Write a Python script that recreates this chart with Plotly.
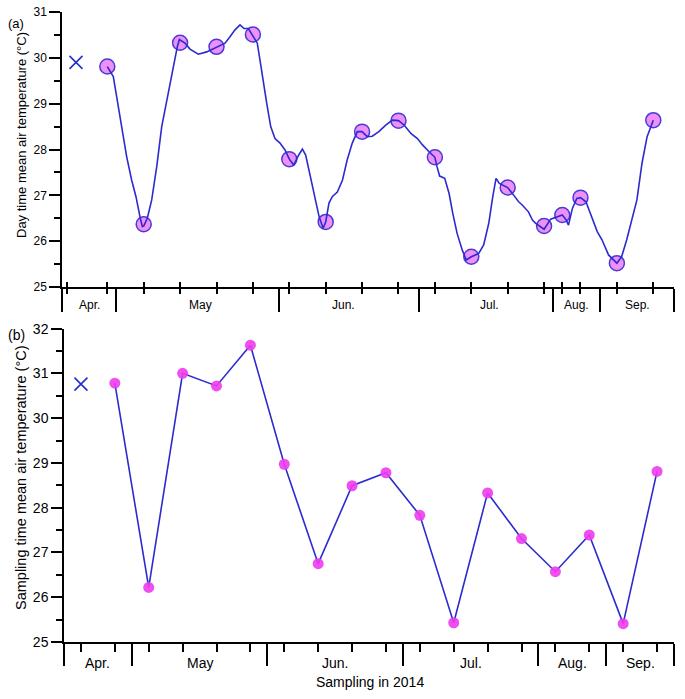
import plotly.graph_objects as go

FONT = "Liberation Sans, Arial, sans-serif"
months = ["Apr.", "May", "Jun.", "Jul.", "Aug.", "Sep."]

# ---------- Panel (a): day time mean air temperature ----------
a_sample_x = [0, 1, 2, 3, 4, 5, 6, 7, 8, 9, 10, 11, 12, 12.5, 13, 14, 15]
a_sample_y = [29.81, 26.37, 30.33, 30.24, 30.51, 27.79, 26.42, 28.39, 28.63,
              27.83, 25.66, 27.17, 26.33, 26.57, 26.95, 25.52, 28.64]
a_cross_x = [-0.86]
a_cross_y = [29.9]
a_curve_x = [0.00, 0.165, 0.258, 0.396, 0.533, 0.670, 0.788, 0.898, 0.962, 1.00,
             1.099, 1.220, 1.357, 1.495, 1.632, 1.769, 1.923, 1.98, 2.135, 2.272,
             2.500, 2.731, 3.00, 3.234, 3.371, 3.508, 3.646, 3.755, 3.874, 3.98,
             4.121, 4.195, 4.286, 4.379, 4.489, 4.607, 4.745, 4.882, 5.00, 5.12,
             5.26, 5.36, 5.45, 5.56, 5.68, 5.82, 5.93, 6.00, 6.09, 6.18,
             6.32, 6.46, 6.59, 6.73, 6.87, 7.00, 7.14, 7.28, 7.46, 7.65,
             7.83, 8.00, 8.16, 8.34, 8.52, 8.66, 8.84, 9.00, 9.06, 9.13,
             9.27, 9.39, 9.49, 9.61, 9.75, 9.86, 10.00, 10.20, 10.34, 10.48,
             10.59, 10.68, 10.77, 11.00, 11.16, 11.30, 11.40, 11.57, 11.68, 11.77,
             12.00, 12.18, 12.50, 12.61, 12.67, 12.78, 12.90, 13.00, 13.15, 13.33,
             13.46, 13.59, 13.77, 14.00, 14.13, 14.27, 14.41, 14.55, 14.69, 14.83,
             15.00]
a_curve_y = [29.81, 29.59, 29.15, 28.50, 27.84, 27.33, 26.97, 26.53, 26.32, 26.33,
             26.50, 26.90, 27.62, 28.50, 29.08, 29.63, 30.24, 30.40, 30.32, 30.19,
             30.08, 30.13, 30.24, 30.32, 30.46, 30.61, 30.72, 30.64, 30.64, 30.51,
             30.32, 29.95, 29.44, 29.01, 28.50, 28.24, 28.14, 27.99, 27.79, 27.66,
             27.88, 28.01, 27.88, 27.48, 26.97, 26.53, 26.28, 26.42, 26.83, 26.97,
             27.07, 27.33, 27.77, 28.14, 28.39, 28.39, 28.28, 28.29, 28.39, 28.53,
             28.64, 28.63, 28.53, 28.35, 28.24, 28.10, 27.95, 27.83, 27.62, 27.42,
             27.37, 27.04, 26.61, 26.17, 25.81, 25.59, 25.66, 25.73, 25.92, 26.39,
             26.97, 27.37, 27.26, 27.17, 27.01, 26.86, 26.79, 26.64, 26.46, 26.39,
             26.26, 26.48, 26.57, 26.46, 26.35, 26.72, 26.93, 26.95, 26.86, 26.50,
             26.21, 26.03, 25.70, 25.52, 25.66, 26.03, 26.46, 26.90, 27.70, 28.28,
             28.64]
a_range = [-1.2445, 15.569]
a_month_edges = [-1.2445, 0.23, 4.71, 8.56, 12.25, 13.53, 15.569]
a_month_centers = [-0.5, 2.55, 6.5, 10.5, 12.9, 14.57]
a_minor_ticks = [-1.12] + a_sample_x

# ---------- Panel (b): sampling time mean air temperature ----------
b_sample_x = list(range(1, 18))
b_sample_y = [30.78, 26.22, 31.00, 30.72, 31.63, 28.97, 26.75, 28.49, 28.78,
              27.83, 25.43, 28.33, 27.31, 26.57, 27.39, 25.41, 28.81]
b_cross_x = [0]
b_cross_y = [30.76]
b_range = [-0.5, 17.5]
b_month_edges = [-0.5, 1.5, 5.5, 9.5, 13.5, 15.5, 17.5]
b_month_centers = [0.5, 3.5, 7.5, 11.5, 14.5, 16.5]
b_minor_ticks = list(range(0, 18))

LINE = "#2b2bd0"

# the page body margin is removed (post_script), so the figure sits at (0,0)
L, R, T, B = 62, 11, 12, 57
W, H = 685, 699
PW, PH = W - L - R, H - T - B  # 612 x 630


def px_x(px):
    return (px - L) / PW


def px_y(py):
    return (H - B - py) / PH


fig = go.Figure()

# panel (a)
fig.add_trace(go.Scatter(x=a_sample_x, y=a_sample_y, mode="markers",
                         marker=dict(size=15, color="#ee90f7",
                                     line=dict(color="#4a3ad8", width=1.5)),
                         xaxis="x", yaxis="y", cliponaxis=False))
fig.add_trace(go.Scatter(x=a_curve_x, y=a_curve_y, mode="lines",
                         line=dict(color=LINE, width=1.6),
                         xaxis="x", yaxis="y"))
fig.add_trace(go.Scatter(x=a_cross_x, y=a_cross_y, mode="markers",
                         marker=dict(symbol="x-thin", size=13,
                                     line=dict(color="#2233cc", width=1.6)),
                         xaxis="x", yaxis="y"))
fig.add_trace(go.Scatter(x=[], y=[], xaxis="x3", yaxis="y"))

# panel (b)
fig.add_trace(go.Scatter(x=b_sample_x, y=b_sample_y, mode="lines",
                         line=dict(color=LINE, width=1.6),
                         xaxis="x2", yaxis="y2"))
fig.add_trace(go.Scatter(x=b_sample_x, y=b_sample_y, mode="markers",
                         marker=dict(size=11, color="#ee3cee", opacity=0.9),
                         xaxis="x2", yaxis="y2", cliponaxis=False))
fig.add_trace(go.Scatter(x=b_cross_x, y=b_cross_y, mode="markers",
                         marker=dict(symbol="x-thin", size=13,
                                     line=dict(color="#2233cc", width=1.6)),
                         xaxis="x2", yaxis="y2"))

ax_common = dict(showline=True, linecolor="black", linewidth=1.5,
                 showgrid=False, zeroline=False, tickcolor="black",
                 tickwidth=1.5, automargin=False)

TOP_DOM = [px_y(287), 1.0]
BOT_DOM = [0.0, px_y(328.6)]

fig.update_layout(
    width=W, height=H,
    margin=dict(l=L, r=R, t=T, b=B, autoexpand=False),
    paper_bgcolor="white", plot_bgcolor="white",
    showlegend=False,
    font=dict(family=FONT, color="black"),
    xaxis=dict(**ax_common, domain=[0, 1], anchor="y", range=a_range,
               tickmode="array", tickvals=a_month_edges, ticks="outside",
               ticklen=23, showticklabels=False,
               minor=dict(tickmode="array", tickvals=a_minor_ticks,
                          ticks="outside", ticklen=5, tickcolor="black",
                          tickwidth=1.5)),
    xaxis3=dict(overlaying="x", anchor="y", range=a_range, showline=False,
                showgrid=False, zeroline=False, tickmode="array",
                tickvals=a_minor_ticks, ticks="inside", ticklen=5,
                tickcolor="black", tickwidth=1.5, showticklabels=False,
                automargin=False),
    yaxis=dict(**ax_common, domain=TOP_DOM, anchor="x", range=[25, 31],
               tickmode="array", tickvals=[25, 26, 27, 28, 29, 30, 31],
               ticks="outside", ticklen=11, tickfont=dict(size=12),
               ticklabeloverflow="allow",
               minor=dict(tickmode="array",
                          tickvals=[25.5, 26.5, 27.5, 28.5, 29.5, 30.5],
                          ticks="outside", ticklen=6, tickcolor="black",
                          tickwidth=1.5)),
    xaxis2=dict(**ax_common, domain=[px_x(64), 1], anchor="y2", range=b_range,
                tickmode="array", tickvals=b_month_edges, ticks="outside",
                ticklen=22, showticklabels=False,
                minor=dict(tickmode="array", tickvals=b_minor_ticks,
                           ticks="outside", ticklen=8, tickcolor="black",
                           tickwidth=1.5)),
    yaxis2=dict(**ax_common, domain=BOT_DOM, anchor="x2", range=[25, 32],
                tickmode="array", tickvals=[25, 26, 27, 28, 29, 30, 31, 32],
                ticks="outside", ticklen=11, tickfont=dict(size=14),
                ticklabeloverflow="allow",
                minor=dict(tickmode="array",
                           tickvals=[25.5, 26.5, 27.5, 28.5, 29.5, 30.5, 31.5],
                           ticks="outside", ticklen=6, tickcolor="black",
                           tickwidth=1.5)),
)

ann = []
for m, c in zip(months, a_month_centers):
    ann.append(dict(text=m, x=c, xref="x", y=px_y(305), yref="paper",
                    showarrow=False, font=dict(size=12), xanchor="center",
                    yanchor="middle"))
for m, c in zip(months, b_month_centers):
    ann.append(dict(text=m, x=c, xref="x2", y=px_y(663), yref="paper",
                    showarrow=False, font=dict(size=14), xanchor="center",
                    yanchor="middle"))
ann.append(dict(text="Sampling in 2014", x=px_x(370), xref="paper",
                y=px_y(682), yref="paper", showarrow=False,
                font=dict(size=14), xanchor="center", yanchor="middle"))
ann.append(dict(text="Day time mean air temperature (°C)", textangle=-90,
                x=px_x(21), xref="paper", y=px_y(135),
                yref="paper", showarrow=False, font=dict(size=13),
                xanchor="center", yanchor="middle"))
ann.append(dict(text="Sampling time mean air temperature (°C)", textangle=-90,
                x=px_x(21), xref="paper", y=px_y(478),
                yref="paper", showarrow=False, font=dict(size=14.5),
                xanchor="center", yanchor="middle"))
ann.append(dict(text="(a)", x=px_x(16), xref="paper",
                y=px_y(23), yref="paper", showarrow=False,
                font=dict(size=13), xanchor="center", yanchor="middle"))
ann.append(dict(text="(b)", x=px_x(16), xref="paper",
                y=px_y(335), yref="paper", showarrow=False,
                font=dict(size=14), xanchor="center", yanchor="middle"))
fig.update_layout(annotations=ann)

fig.write_html("out.html",
               config={"displayModeBar": False},
               post_script="document.body.style.margin='0';"
                           "document.body.style.overflow='hidden';")
